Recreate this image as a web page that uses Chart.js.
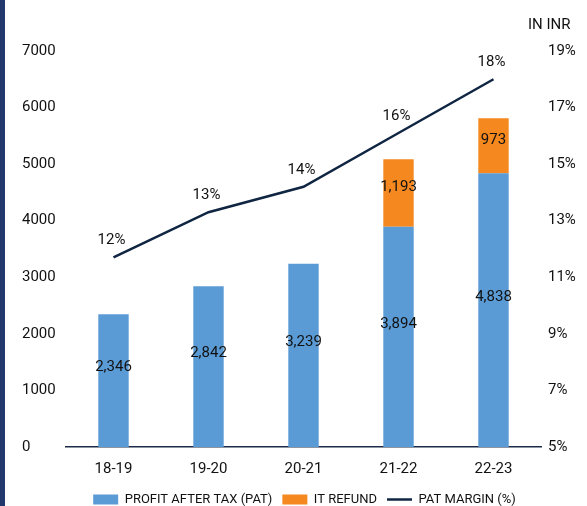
<!DOCTYPE html>
<html>
<head>
<meta charset="utf-8">
<script src="https://cdn.jsdelivr.net/npm/chart.js@4/dist/chart.umd.min.js"></script>
<style>
  html, body { margin: 0; padding: 0; background: #fff; }
  #wrap { width: 587px; height: 506px; position: relative; }
</style>
</head>
<body>
<div id="wrap"><canvas id="chart" width="587" height="506"></canvas></div>
<script>
// data
const categories = ['18-19', '19-20', '20-21', '21-22', '22-23'];
const patValues = [2346, 2842, 3239, 3894, 4838];
const refundValues = [null, null, null, 1193, 973];
const marginValues = [11.7, 13.3, 14.2, 16.1, 18.0];

const FONT = "Roboto, 'Liberation Sans', sans-serif";
const NAVY = '#0f2542';

// labels on bars and line, plus the side bar and unit text
const labelPlugin = {
  id: 'labels',
  beforeDraw(chart) {
    const ctx = chart.ctx;
    ctx.save();
    ctx.fillStyle = '#22376b';
    ctx.fillRect(0, 0, 5, chart.height);
    ctx.restore();
  },
  afterDatasetsDraw(chart) {
    const ctx = chart.ctx;
    ctx.save();
    ctx.font = '15px ' + FONT;
    ctx.fillStyle = '#111';
    ctx.textAlign = 'center';
    ctx.textBaseline = 'middle';
    chart.data.datasets.forEach((ds, i) => {
      const meta = chart.getDatasetMeta(i);
      meta.data.forEach((el, j) => {
        const v = ds.data[j];
        if (v == null) return;
        if (ds.type === 'line') {
          ctx.fillText(Math.round(v) + '%', el.x - 2, el.y - 17);
        } else {
          const off = i === 1 ? -13 : -6;
          ctx.fillText(v.toLocaleString('en-US'), el.x, (el.y + el.base) / 2 + off);
        }
      });
    });
    // unit text above the right axis
    const r = chart.scales.y1;
    ctx.textAlign = 'left';
    ctx.fillText('IN INR', r.left - 13, 25);
    ctx.restore();
  }
};

new Chart(document.getElementById('chart'), {
  data: {
    labels: categories,
    datasets: [
      {
        type: 'line',
        label: 'PAT MARGIN (%)',
        data: marginValues,
        yAxisID: 'y1',
        borderColor: NAVY,
        backgroundColor: NAVY,
        borderWidth: 2.5,
        pointRadius: 0,
        tension: 0,
        order: 0
      },
      {
        type: 'bar',
        label: 'PROFIT AFTER TAX (PAT)',
        data: patValues,
        backgroundColor: '#5b9bd5',
        yAxisID: 'y',
        barPercentage: 0.32,
        categoryPercentage: 1,
        order: 1
      },
      {
        type: 'bar',
        label: 'IT REFUND',
        data: refundValues,
        backgroundColor: '#f5891f',
        yAxisID: 'y',
        barPercentage: 0.32,
        categoryPercentage: 1,
        order: 1
      }
    ]
  },
  options: {
    responsive: false,
    animation: false,
    layout: { padding: { top: 51, left: 22, right: 0, bottom: -10 } },
    plugins: {
      tooltip: { enabled: false },
      legend: {
        position: 'bottom',
        labels: {
          font: { family: FONT, size: 13 },
          color: '#111',
          usePointStyle: true,
          pointStyleWidth: 25,
          boxHeight: 10,
          padding: 10,
          sort: (a, b) => (a.datasetIndex === 0 ? 1 : 0) - (b.datasetIndex === 0 ? 1 : 0),
          generateLabels(chart) {
            const items = Chart.defaults.plugins.legend.labels.generateLabels(chart);
            items.forEach(it => {
              if (it.datasetIndex === 0) {
                it.pointStyle = 'line';
                it.lineWidth = 2.5;
                it.strokeStyle = NAVY;
              } else {
                it.pointStyle = 'rect';
                it.lineWidth = 0;
              }
            });
            return items;
          }
        }
      }
    },
    scales: {
      x: {
        stacked: true,
        grid: { display: false },
        border: { display: true, color: '#1c2c48', width: 1.5 },
        ticks: { font: { family: FONT, size: 15 }, color: '#111', padding: 5 }
      },
      y: {
        stacked: true,
        position: 'left',
        min: 0,
        max: 7000,
        grid: { display: false, drawTicks: false },
        border: { display: false },
        ticks: { stepSize: 1000, font: { family: FONT, size: 15 }, color: '#111', crossAlign: 'far', padding: 0, callback: v => String(v) },
        afterFit(scale) { scale.width = 44; }
      },
      y1: {
        position: 'right',
        min: 5,
        max: 19,
        grid: { display: false, drawTicks: false },
        border: { display: false },
        ticks: { stepSize: 2, font: { family: FONT, size: 15 }, color: '#111', padding: 7, callback: v => v + '%' },
        afterFit(scale) { scale.width = 46; }
      }
    }
  },
  plugins: [labelPlugin]
});
</script>
</body>
</html>
